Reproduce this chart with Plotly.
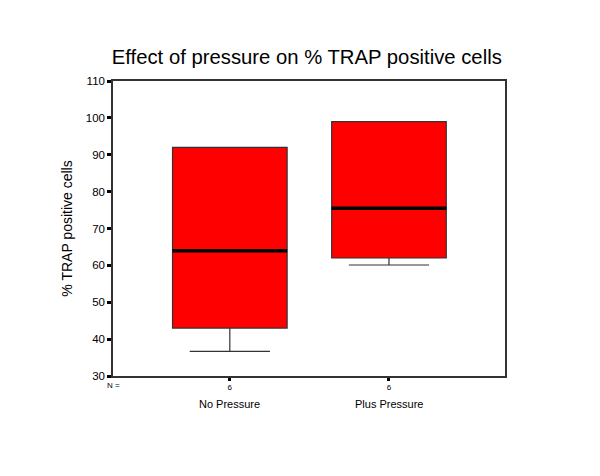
import plotly.graph_objects as go

categories = ["No Pressure", "Plus Pressure"]
n_labels = ["6", "6"]
q1 = [43.0, 62.0]
median = [64.0, 75.5]
q3 = [92.0, 99.0]
lower = [36.7, 60.1]
upper = [92.0, 99.0]
y_ticks = [30, 40, 50, 60, 70, 80, 90, 100, 110]

xpos = list(range(len(categories)))
box_w = 0.72

fig = go.Figure()
fig.add_trace(go.Box(
    x=xpos, q1=q1, median=median, q3=q3, lowerfence=lower, upperfence=upper,
    fillcolor="#ff0000", line=dict(color="#333333", width=1.2),
    width=box_w, whiskerwidth=0.7, boxpoints=False, showlegend=False,
    hoverinfo="skip",
))
# thick median lines
for i, m in enumerate(median):
    fig.add_trace(go.Scatter(
        x=[xpos[i] - box_w / 2, xpos[i] + box_w / 2], y=[m, m],
        mode="lines", line=dict(color="black", width=3.5),
        showlegend=False, hoverinfo="skip",
    ))

for i, c in enumerate(categories):
    fig.add_annotation(x=xpos[i], y=0, xref="x", yref="paper", yshift=-28,
                       text=c, showarrow=False, yanchor="middle",
                       font=dict(size=11, color="black"))
fig.add_annotation(x=0, y=0, xref="paper", yref="paper", xshift=0, yshift=-9,
                   text="N =", showarrow=False, xanchor="center", yanchor="middle",
                   font=dict(size=8, color="black"))

fig.update_layout(
    width=600, height=476,
    paper_bgcolor="white", plot_bgcolor="white",
    font=dict(family="Liberation Sans, Arial, sans-serif", color="black"),
    title=dict(text="Effect of pressure on % TRAP positive cells",
               x=0.498, xanchor="center", y=0.897, yanchor="middle",
               font=dict(size=20.3, color="black")),
    margin=dict(l=105, r=103, t=73, b=108),
    xaxis=dict(range=[-0.734, 1.729], tickvals=xpos, ticktext=n_labels,
               ticks="outside", ticklen=3, tickwidth=3, tickcolor="black",
               tickfont=dict(size=8), showgrid=False, zeroline=False,
               showline=True, linecolor="#333333", linewidth=1.5, mirror=True),
    yaxis=dict(range=[30, 110], tickvals=y_ticks,
               ticks="outside", ticklen=4, tickwidth=3, tickcolor="black",
               tickfont=dict(size=11.5), showgrid=False, zeroline=False,
               showline=True, linecolor="#333333", linewidth=1.5, mirror=True,
               title=dict(text="% TRAP positive cells", font=dict(size=14), standoff=10)),
)

fig.write_html("out.html")
